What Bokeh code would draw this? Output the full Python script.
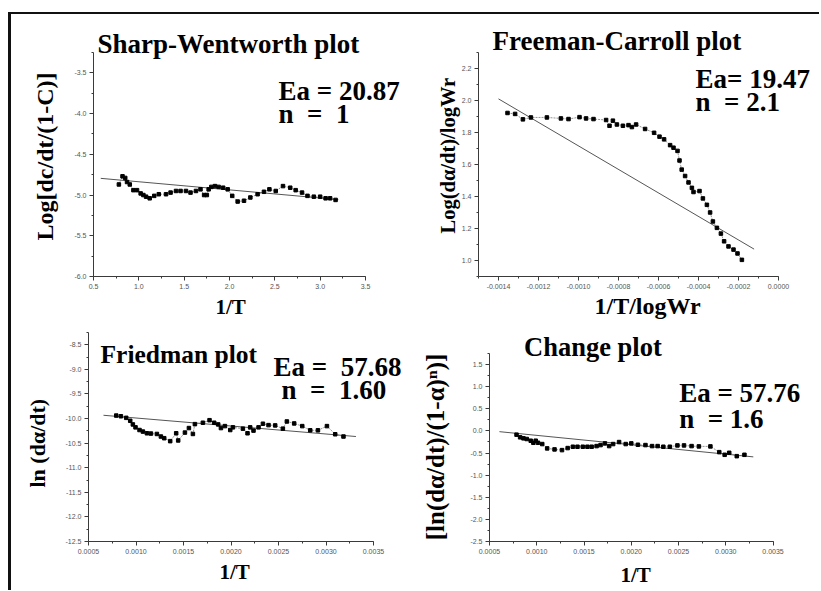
from bokeh.plotting import figure
from bokeh.layouts import row, column
from bokeh.models import Range1d, FixedTicker, PrintfTickFormatter, Label, Title
from bokeh.embed import file_html
from bokeh.resources import INLINE

# ---------------- data ----------------
# Sharp-Wentworth plot
sw_x = [0.78, 0.82, 0.85, 0.87, 0.90, 0.94, 0.98, 1.02, 1.05, 1.08, 1.12, 1.17, 1.22,
        1.30, 1.35, 1.41, 1.46, 1.52, 1.57, 1.63, 1.68, 1.72, 1.75, 1.77, 1.80, 1.84,
        1.88, 1.93, 1.98, 2.03, 2.09, 2.16, 2.23, 2.31, 2.38, 2.44, 2.51, 2.59, 2.67,
        2.73, 2.80, 2.86, 2.93, 3.00, 3.06, 3.11, 3.17]
sw_y = [-4.87, -4.77, -4.79, -4.84, -4.87, -4.94, -4.94, -4.98, -5.00, -5.02, -5.04, -5.01, -4.99,
        -4.99, -4.97, -4.95, -4.95, -4.95, -4.97, -4.95, -4.93, -5.00, -5.00, -4.93, -4.90, -4.89,
        -4.90, -4.91, -4.93, -5.01, -5.08, -5.07, -5.03, -4.99, -4.96, -4.93, -4.95, -4.89, -4.91,
        -4.94, -4.97, -5.01, -5.02, -5.02, -5.04, -5.04, -5.06]
sw_fit_x = [0.58, 3.20]
sw_fit_y = [-4.795, -5.056]

# Freeman-Carroll plot
fc_x = [-0.001355, -0.001317, -0.001278, -0.001238, -0.001158, -0.001088, -0.001050, -0.000995,
        -0.000962, -0.000925, -0.000862, -0.000845, -0.000828, -0.000808, -0.000778, -0.000750,
        -0.000733, -0.000712, -0.000667, -0.000622, -0.000595, -0.000572, -0.000542, -0.000525,
        -0.000505, -0.000495, -0.000484, -0.000467, -0.000450, -0.000433, -0.000425, -0.000395,
        -0.000378, -0.000358, -0.000342, -0.000328, -0.000308, -0.000288, -0.000272, -0.000250,
        -0.000225, -0.000205, -0.000183]
fc_y = [1.922, 1.916, 1.882, 1.894, 1.894, 1.888, 1.884, 1.896,
        1.888, 1.884, 1.878, 1.842, 1.874, 1.850, 1.842, 1.846,
        1.834, 1.850, 1.822, 1.798, 1.774, 1.757, 1.721, 1.705,
        1.685, 1.625, 1.568, 1.528, 1.488, 1.454, 1.428, 1.434,
        1.388, 1.348, 1.300, 1.244, 1.204, 1.168, 1.120, 1.088,
        1.068, 1.044, 1.004]
fc_fit_x = [-0.00140, -0.000122]
fc_fit_y = [2.010, 1.071]

# Friedman plot
fr_x = [0.000792, 0.000841, 0.000897, 0.000939, 0.000967, 0.000995, 0.001037, 0.001073, 0.001115,
        0.001157, 0.001220, 0.001262, 0.001297, 0.001360, 0.001423, 0.001444, 0.001515, 0.001557,
        0.001599, 0.001620, 0.001704, 0.001774, 0.001823, 0.001865, 0.001894, 0.001936, 0.001992,
        0.002020, 0.002125, 0.002174, 0.002202, 0.002237, 0.002290, 0.002336, 0.002395, 0.002465,
        0.002546, 0.002588, 0.002665, 0.002750, 0.002834, 0.002915, 0.003010, 0.003097, 0.003184]
fr_y = [-9.940, -9.954, -9.986, -10.046, -10.120, -10.180, -10.234, -10.266, -10.300,
        -10.306, -10.314, -10.366, -10.400, -10.460, -10.300, -10.446, -10.286, -10.194,
        -10.314, -10.114, -10.086, -10.034, -10.086, -10.120, -10.194, -10.154, -10.234,
        -10.180, -10.206, -10.300, -10.180, -10.246, -10.180, -10.106, -10.134, -10.140,
        -10.206, -10.060, -10.100, -10.154, -10.240, -10.240, -10.154, -10.320, -10.366]
fr_fit_x = [0.000658, 0.003315]
fr_fit_y = [-9.934, -10.366]

# Change plot
ch_x = [0.000786, 0.000824, 0.000859, 0.000894, 0.000936, 0.000964, 0.000989, 0.001013, 0.001058,
        0.001110, 0.001188, 0.001267, 0.001327, 0.001382, 0.001431, 0.001487, 0.001536, 0.001581,
        0.001633, 0.001675, 0.001721, 0.001766, 0.001808, 0.001871, 0.001941, 0.002000, 0.002070,
        0.002150, 0.002220, 0.002279, 0.002339, 0.002408, 0.002488, 0.002558, 0.002638, 0.002715,
        0.002837, 0.002931, 0.002988, 0.003036, 0.003116, 0.003197]
ch_y = [-0.085, -0.145, -0.168, -0.183, -0.222, -0.268, -0.222, -0.268, -0.297,
        -0.395, -0.418, -0.434, -0.388, -0.358, -0.358, -0.358, -0.358, -0.358,
        -0.343, -0.320, -0.282, -0.343, -0.297, -0.252, -0.297, -0.282, -0.313,
        -0.320, -0.343, -0.343, -0.358, -0.358, -0.328, -0.328, -0.343, -0.350,
        -0.350, -0.480, -0.540, -0.495, -0.571, -0.540]
ch_fit_x = [0.000605, 0.003291]
ch_fit_y = [-0.017, -0.587]

NB = "\u00a0"  # keeps the wide spacing of the original annotations
titles = ["Sharp-Wentworth plot", "Freeman-Carroll plot", "Friedman plot", "Change plot"]
ea_texts = ["Ea = 20.87", "Ea= 19.47", "Ea =" + NB + " 57.68", "Ea = 57.76"]
n_texts = ["n " + NB + "= " + NB + "1", "n " + NB + "= 2.1", "n " + NB + "= " + NB + "1.60",
           "n " + NB + "= 1.6"]
x_titles = ["1/T", "1/T/logWr", "1/T", "1/T"]
y_titles = ["Log[dc/dt/(1-C)]", "Log(d\u03b1/dt)/logWr", "ln (d\u03b1/dt)",
            "[ln(d\u03b1/dt)/(1-\u03b1)\u207f)]"]

# ---------------- styling helpers ----------------
SERIF = "Liberation Serif"
SANS = "Liberation Sans"
AXIS_COLOR = "#3a3a3a"


def ticks(a, b, step):
    n = int(round((b - a) / step))
    return [round(a + i * step, 10) for i in range(n + 1)]


def make_panel(pos, size, axis_px, xb, yb, xt, yt, xfmt, yfmt):
    """axis_px = (left, right, top, bottom) page-pixel extent of the drawn axes."""
    (fx, fy), (w, h) = pos, size
    ax0, ax1, ay0, ay1 = axis_px
    sx = (ax1 - ax0) / (xb[1] - xb[0])
    sy = (ay1 - ay0) / (yb[1] - yb[0])
    frame = (ax0, fy, fx + w, ay1)  # frame runs from the axes to the canvas top/right edges
    xr = (xb[0], xb[0] + (frame[2] - ax0) / sx)
    yr = (yb[0], yb[0] + (ay1 - frame[1]) / sy)
    p = figure(width=w, height=h, x_range=Range1d(*xr), y_range=Range1d(*yr),
               output_backend="svg", toolbar_location=None,
               min_border_left=ax0 - fx, min_border_right=0, min_border_top=0,
               min_border_bottom=fy + h - ay1)
    p.xgrid.visible = False
    p.ygrid.visible = False
    p.outline_line_color = None
    p.xaxis.bounds = xb
    p.yaxis.bounds = yb
    p.xaxis.ticker = FixedTicker(ticks=ticks(*xt), minor_ticks=ticks(xb[0], xb[1], xt[2] / 2))
    p.yaxis.ticker = FixedTicker(ticks=ticks(*yt), minor_ticks=ticks(yb[0], yb[1], yt[2] / 2))
    p.xaxis.formatter = PrintfTickFormatter(format=xfmt)
    p.yaxis.formatter = PrintfTickFormatter(format=yfmt)
    for ax in (p.xaxis[0], p.yaxis[0]):
        ax.axis_line_color = AXIS_COLOR
        ax.major_tick_line_color = AXIS_COLOR
        ax.minor_tick_line_color = AXIS_COLOR
        ax.major_tick_in = 0
        ax.major_tick_out = 4
        ax.minor_tick_in = 0
        ax.minor_tick_out = 2
        ax.major_label_text_font = SANS
        ax.major_label_text_font_size = "7px"
        ax.major_label_text_color = "#555555"
        ax.major_label_standoff = 3
        ax.axis_label_text_font = SERIF
        ax.axis_label_text_font_style = "bold"
        ax.axis_label_text_color = "black"
    return p, frame, xr, yr


def axis_title(panel_info, side, text, size, offset, standoff, valign):
    p = panel_info[0]
    p.add_layout(Title(text=text, align="left", offset=offset, standoff=standoff,
                       vertical_align=valign, text_font=SERIF, text_font_style="bold",
                       text_font_size=f"{size}px", text_color="black"), side)


def place(panel_info, text, px, py, size):
    p, (fx0, fy0, fx1, fy1), xr, yr = panel_info
    x = xr[0] + (px - fx0) / (fx1 - fx0) * (xr[1] - xr[0])
    y = yr[1] - (py - fy0) / (fy1 - fy0) * (yr[1] - yr[0])
    p.add_layout(Label(x=x, y=y, text=text, text_font=SERIF, text_font_style="bold",
                       text_font_size=f"{size}px", text_align="left",
                       text_baseline="alphabetic", text_color="black"))


def draw(p, xs, ys, fx, fy):
    p.line(fx, fy, line_color="#555555", line_width=1)
    p.line(xs, ys, line_color="#7a7a7a", line_width=0.8, line_dash="2 1")
    p.scatter(xs, ys, marker="square", size=3.5, fill_color="black", line_color="black")


# ---------------- panels ----------------
P1 = make_panel((11, 14), (408, 313), (93, 365, 52, 276), (0.5, 3.5), (-6.0, -3.25),
                (0.5, 3.5, 0.5), (-6.0, -3.5, 0.5), "%.1f", "%.1f")
P2 = make_panel((419, 14), (400, 313), (478, 778, 53, 283), (-0.0015, 0.0), (0.9, 2.3),
                (-0.0014, 0.0, 0.0002), (1.0, 2.2, 0.2), "%.4f", "%.1f")
P3 = make_panel((11, 327), (408, 263), (88, 373, 332, 544), (0.0005, 0.0035), (-12.5, -8.25),
                (0.0005, 0.0035, 0.0005), (-12.5, -8.5, 0.5), "%.4f", "%.1f")
P4 = make_panel((419, 327), (400, 263), (485, 772, 353, 541), (0.0005, 0.0035), (-2.5, 1.75),
                (0.0005, 0.0035, 0.0005), (-2.5, 1.5, 0.5), "%.4f", "%.1f")

draw(P1[0], sw_x, sw_y, sw_fit_x, sw_fit_y)
draw(P2[0], fc_x, fc_y, fc_fit_x, fc_fit_y)
draw(P3[0], fr_x, fr_y, fr_fit_x, fr_fit_y)
draw(P4[0], ch_x, ch_y, ch_fit_x, ch_fit_y)

# axis titles
axis_title(P1, "below", x_titles[0], 21, 122, 5, "middle")
axis_title(P2, "below", x_titles[1], 24, 116, 0, "middle")
axis_title(P3, "below", x_titles[2], 21, 131, 4, "middle")
axis_title(P4, "below", x_titles[3], 21, 131, 8, "bottom")
axis_title(P1, "left", y_titles[0], 24, 36, 25, "middle")
axis_title(P2, "left", y_titles[1], 20.5, 43, 0, "bottom")
axis_title(P3, "left", y_titles[2], 22, 54, 24, "middle")
P4[0].yaxis.axis_label = y_titles[3] + NB * 4
P4[0].yaxis.axis_label_text_font_size = "25px"
P4[0].yaxis.axis_label_standoff = 18

# plot titles and kinetic parameters
place(P1, titles[0], 97, 43, 27)
place(P1, ea_texts[0], 278, 90, 27)
place(P1, n_texts[0], 278, 113, 27)
place(P2, titles[1], 492, 41, 27)
place(P2, ea_texts[1], 695, 80, 27)
place(P2, n_texts[1], 695, 104, 27)
place(P3, titles[2], 100, 354, 25.5)
place(P3, ea_texts[2], 273, 367, 27)
place(P3, n_texts[2], 281, 390, 27)
place(P4, titles[3], 520, 346, 26.5)
place(P4, ea_texts[3], 677, 392, 27)
place(P4, n_texts[3], 677, 418, 27)

layout = column(row(P1[0], P2[0]), row(P3[0], P4[0]),
                styles={"border-top": "2px solid #111111", "border-left": "3px solid #111111",
                        "margin-top": "12px", "margin-left": "8px"})

open("out.html", "w").write(file_html(layout, INLINE))
